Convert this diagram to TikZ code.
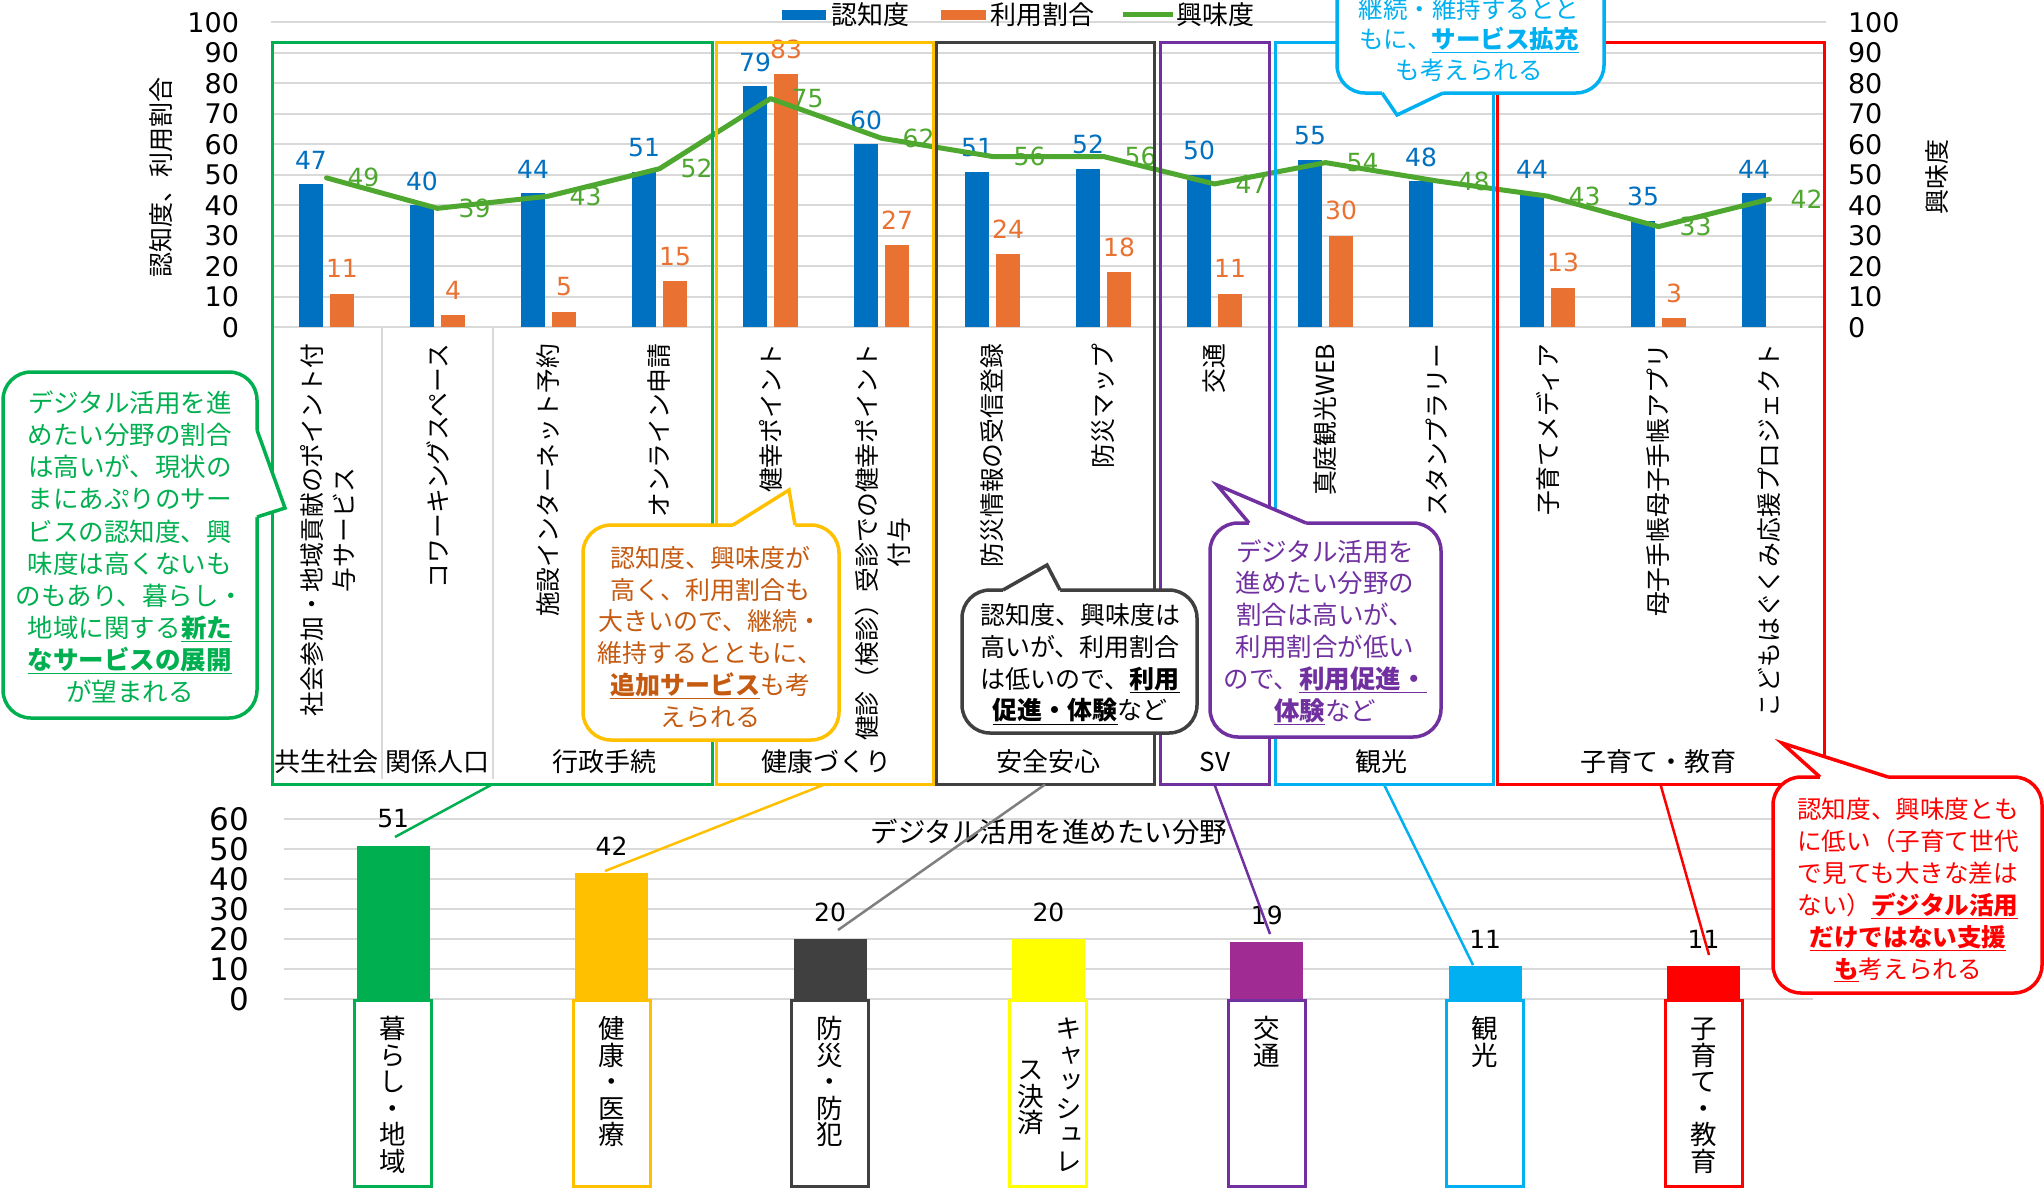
\documentclass[tikz,border=0pt]{standalone}
\usepackage{fontspec}
\setmainfont{Noto Sans CJK JP}
\newfontfamily\jpv[RawFeature=+vert]{Noto Sans CJK JP}
\newfontfamily\numf{DejaVu Sans}
\usetikzlibrary{calc}
\definecolor{cblue}{HTML}{0070C0}
\definecolor{corange}{HTML}{E97132}
\definecolor{cline}{HTML}{4EA72E}
\definecolor{cgrid}{HTML}{D9D9D9}
\definecolor{xgreen}{HTML}{00B050}
\definecolor{xgold}{HTML}{FFC000}
\definecolor{xdark}{HTML}{404040}
\definecolor{xyellow}{HTML}{FFFF00}
\definecolor{xpurple}{HTML}{7030A0}
\definecolor{xpurplebar}{HTML}{A02B93}
\definecolor{xcyan}{HTML}{00B0F0}
\definecolor{xred}{HTML}{FF0000}
\definecolor{xbrown}{HTML}{C55A11}
\definecolor{xconn}{HTML}{7F7F7F}
\newcommand\ulb[1]{\underline{\bfseries #1}}
\newcommand\vfnt{\jpv\fontsize{26.5}{26.5}\selectfont}
% name, x, baseline of first char, list of chars
\newcommand\vstack[4]{\foreach \ch [count=\n] in {#4}{\node[vtext,anchor=base] (#1-\n) at (#2,#3+26.5*\n-26.5) {\ch};}}
\begin{document}
\begin{tikzpicture}[x=1pt,y=-1pt,
  every node/.style={inner sep=0,outer sep=0},
  gridl/.style={draw=cgrid,line width=2},
  grpbox/.style={draw,line width=3,anchor=north west},
  vlab/.style={font=\numf\fontsize{25}{28}\selectfont},
  ax/.style={font=\numf\fontsize{27}{30}\selectfont},
  axb/.style={font=\numf\fontsize{31}{34}\selectfont},
  catlab/.style={rotate=90,anchor=east,align=center,font=\fontsize{24.8}{32}\selectfont},
  grplab/.style={font=\fontsize{26}{30}\selectfont},
  cbox/.style={draw,line width=3.5,fill=white,rounded corners=28,anchor=north west},
  ctext/.style={align=center,font=\fontsize{25}{31.7}\selectfont},
  vtext/.style={font=\vfnt},
  conn/.style={line width=2.5},
  wedge/.style={line width=3.5,line join=miter}
]
\useasboundingbox (0,0) rectangle (2044,1192);
\fill[white] (0,0) rectangle (2044,1192);

% ---------- top chart grid and axes ----------
\foreach \v in {0,10,...,100}{
  \draw[gridl] (271,327.2-3.048*\v) -- (1826,327.2-3.048*\v);
  \node[ax,anchor=east] (al\v) at (239,327.2-3.048*\v) {\v};
  \node[ax,anchor=west] (ar\v) at (1848,327.2-3.048*\v) {\v};
}
\node[rotate=90,font=\fontsize{25}{28}\selectfont] (ytl) at (161,177) {認知度、利用割合};
\node[rotate=90,font=\fontsize{25}{28}\selectfont] (ytr) at (1937,177) {興味度};

% separators in category axis
\draw[draw=cgrid,line width=1.5] (382,327) -- (382,779);
\draw[draw=cgrid,line width=1.5] (493,327) -- (493,779);

% ---------- bars ----------
\foreach \i/\vb/\vo/\vg in {1/47/11/49,2/40/4/39,3/44/5/43,4/51/15/52,5/79/83/75,6/60/27/62,7/51/24/56,8/52/18/56,9/50/11/47,10/55/30/54,11/48/-1/48,12/44/13/43,13/35/3/33,14/44/-1/42}{
  \pgfmathsetmacro\cx{215.5+111*\i}
  \pgfmathsetmacro\yb{327.2-3.048*\vb}
  \pgfmathsetmacro\yg{327.2-3.048*\vg}
  \fill[cblue] (\cx-27.5,327.2) rectangle (\cx-3.5,\yb);
  \node[vlab,text=cblue] (vb\i) at (\cx-15.5,\yb-24) {\vb};
  \ifnum\vo>-1
    \pgfmathsetmacro\yo{327.2-3.048*\vo}
    \fill[corange] (\cx+3.5,327.2) rectangle (\cx+27.5,\yo);
    \node[vlab,text=corange] (vo\i) at (\cx+15.5,\yo-25) {\vo};
  \fi
  \coordinate (k\i) at (\cx,\yg);
}
\draw[cline,line width=5,line join=round,line cap=round] (k1) -- (k2) -- (k3) -- (k4) -- (k5) -- (k6) -- (k7) -- (k8) -- (k9) -- (k10) -- (k11) -- (k12) -- (k13) -- (k14);
\foreach \i/\vg in {1/49,2/39,3/43,4/52,5/75,6/62,7/56,8/56,9/47,10/54,11/48,12/43,13/33,14/42}{
  \node[vlab,text=cline] (vg\i) at ($(k\i)+(37,0)$) {\vg};
}

% ---------- legend ----------
\fill[cblue] (782,10) rectangle (826,20);
\node[anchor=west,font=\fontsize{26}{28}\selectfont] (leg1) at (831,15) {認知度};
\fill[corange] (941,10) rectangle (986,20);
\node[anchor=west,font=\fontsize{26}{28}\selectfont] (leg2) at (990,15) {利用割合};
\draw[cline,line width=5] (1123,14) -- (1173,14);
\node[anchor=west,font=\fontsize{26}{28}\selectfont] (leg3) at (1176,15) {興味度};

% ---------- category labels ----------
\node[catlab] (cl1) at (328,344) {社会参加・地域貢献のポイント付\\与サービス};
\node[catlab] (cl2) at (437.5,344) {コワーキングスペース};
\node[catlab] (cl3) at (548.5,344) {施設インターネット予約};
\node[catlab] (cl4) at (659.5,344) {オンライン申請};
\node[catlab] (cl5) at (770.5,344) {健幸ポイント};
\node[catlab] (cl6) at (883,344) {健診（検診）受診での健幸ポイント\\付与};
\node[catlab] (cl7) at (992.5,344) {防災情報の受信登録};
\node[catlab] (cl8) at (1103.5,344) {防災マップ};
\node[catlab] (cl9) at (1214.5,344) {交通};
\node[catlab] (cl10) at (1325.5,344) {真庭観光WEB};
\node[catlab] (cl11) at (1436.5,344) {スタンプラリー};
\node[catlab] (cl12) at (1547.5,344) {子育てメディア};
\node[catlab] (cl13) at (1658.5,344) {母子手帳母子手帳アプリ};
\node[catlab] (cl14) at (1769.5,344) {こどもはぐくみ応援プロジェクト};

% group labels
\node[grplab] (gl1) at (326.5,762) {共生社会};
\node[grplab] (gl2) at (437.5,762) {関係人口};
\node[grplab] (gl3) at (604,762) {行政手続};
\node[grplab] (gl4) at (826,762) {健康づくり};
\node[grplab] (gl5) at (1048,762) {安全安心};
\node[grplab] (gl6) at (1215,762) {SV};
\node[grplab] (gl7) at (1381,762) {観光};
\node[grplab] (gl8) at (1658.5,762) {子育て・教育};

% group boxes
\node[grpbox,draw=xgreen,minimum width=440,minimum height=742] (g1) at (272,42.5) {};
\node[grpbox,draw=xgold,minimum width=217,minimum height=742] (g2) at (716,42.5) {};
\node[grpbox,draw=xdark,minimum width=218,minimum height=742] (g3) at (936,42.5) {};
\node[grpbox,draw=xpurple,minimum width=109,minimum height=742] (g4) at (1160,42.5) {};
\node[grpbox,draw=xcyan,minimum width=218,minimum height=742] (g5) at (1275,42.5) {};
\node[grpbox,draw=xred,minimum width=327,minimum height=742] (g6) at (1497,42.5) {};

% ---------- bottom chart ----------
\foreach \v in {0,10,...,60}{
  \draw[gridl] (284,999-3*\v) -- (1813,999-3*\v);
  \node[axb,anchor=east] (bl\v) at (249,999-3*\v) {\v};
}
\node[font=\fontsize{27.5}{30}\selectfont] (btitle) at (1049,832) {デジタル活用を進めたい分野};
\foreach \j/\val/\col/\bcol in {1/51/xgreen/xgreen,2/42/xgold/xgold,3/20/xdark/xdark,4/20/xyellow/xyellow,5/19/xpurplebar/xpurple,6/11/xcyan/xcyan,7/11/xred/xred}{
  \pgfmathsetmacro\bx{174.8+218.4*\j}
  \node[fill=\col,minimum width=73,minimum height=3*\val,anchor=south] (b\j) at (\bx,999) {};
  \node[font=\numf\fontsize{25}{28}\selectfont] (bv\j) at ([yshift=27pt]b\j.north) {\val};
  \node[draw=\bcol,line width=3,minimum width=77,minimum height=186,anchor=north] (bx\j) at (\bx,1000) {};
}
\vstack{vt1}{393.2}{1038.5}{暮,ら,し,・,地,域}
\vstack{vt2}{611.6}{1038.5}{健,康,・,医,療}
\vstack{vt3}{830}{1038.5}{防,災,・,防,犯}
\vstack{vt4a}{1069}{1038.8}{キ,ャ,ッ,シ,ュ,レ}
\vstack{vt4b}{1031}{1079.5}{ス,決,済}
\vstack{vt5}{1266.8}{1038.5}{交,通}
\vstack{vt6}{1485.2}{1038.5}{観,光}
\vstack{vt7}{1703.6}{1038.5}{子,育,て,・,教,育}

% ---------- connectors ----------
\coordinate (e1) at (395,837);
\coordinate (e2) at (605,871);
\coordinate (e3) at (838,930);
\coordinate (e4) at (1270,934);
\coordinate (e5) at (1473,965);
\coordinate (e6) at (1709,955);
\draw[conn,xgreen] (g1.south) -- (e1);
\draw[conn,xgold] (g2.south) -- (e2);
\draw[conn,xconn] (g3.south) -- (e3);
\draw[conn,xpurple] (g4.south) -- (e4);
\draw[conn,xcyan] (g5.south) -- (e5);
\draw[conn,xred] (g6.south) -- (e6);

% ---------- callouts ----------
% green
\node[cbox,draw=xgreen,minimum width=254,minimum height=346] (c1) at (3,372) {};
\fill[white] (254,430) -- (257,430) -- (285,508) -- (257,517) -- (254,517) -- cycle;
\draw[wedge,xgreen] (257,430) -- (285,508) -- (257,517);
\node[ctext,text=xgreen,font=\fontsize{25.5}{32.1}\selectfont] (t1) at (130,547) {デジタル活用を進\\めたい分野の割合\\は高いが、現状の\\まにあぷりのサー\\ビスの認知度、興\\味度は高くないも\\のもあり、暮らし・\\地域に関する\ulb{新た}\\\ulb{なサービスの展開}\\が望まれる};
% orange
\node[cbox,draw=xgold,minimum width=256,minimum height=215] (c2) at (583,525) {};
\fill[white] (733,528) -- (733,525) -- (789,490) -- (795,525) -- (795,528) -- cycle;
\draw[wedge,xgold] (733,525) -- (789,490) -- (795,525);
\node[ctext,text=xbrown] (t2) at (710,637) {認知度、興味度が\\高く、利用割合も\\大きいので、継続・\\維持するとともに、\\\ulb{追加サービス}も考\\えられる};
% gray
\node[cbox,draw=xdark,minimum width=235,minimum height=143] (c3) at (962,590) {};
\fill[white] (1003,593) -- (1003,590) -- (1047,565) -- (1060,590) -- (1060,593) -- cycle;
\draw[wedge,xdark] (1003,590) -- (1047,565) -- (1060,590);
\node[ctext,text=black] (t3) at (1080,664) {認知度、興味度は\\高いが、利用割合\\は低いので、\ulb{利用}\\\ulb{促進・体験}など};
% purple
\node[cbox,draw=xpurple,minimum width=231,minimum height=214] (c4) at (1210,523) {};
\fill[white] (1249,526) -- (1249,523) -- (1217,485) -- (1306,523) -- (1306,526) -- cycle;
\draw[wedge,xpurple] (1249,523) -- (1217,485) -- (1306,523);
\node[ctext,text=xpurple,font=\fontsize{25.5}{31.8}\selectfont] (t4) at (1325,632) {デジタル活用を\\進めたい分野の\\割合は高いが、\\利用割合が低い\\ので、\ulb{利用促進・}\\\ulb{体験}など};
% cyan
\node[cbox,draw=xcyan,minimum width=267,minimum height=133] (c5) at (1337,-40) {};
\fill[white] (1382,90) -- (1382,93) -- (1397,115) -- (1443,93) -- (1443,90) -- cycle;
\draw[wedge,xcyan] (1382,93) -- (1397,115) -- (1443,93);
\node[ctext,text=xcyan,font=\fontsize{24.5}{30.5}\selectfont] (t5) at (1469,39.5) {継続・維持するとと\\もに、\ulb{サービス拡充}\\も考えられる};
% red
\node[cbox,draw=xred,minimum width=269,minimum height=216] (c6) at (1773,777) {};
\fill[white] (1820,780) -- (1820,777) -- (1782,743) -- (1888,777) -- (1888,780) -- cycle;
\draw[wedge,xred] (1820,777) -- (1782,743) -- (1888,777);
\node[ctext,text=xred,font=\fontsize{24.6}{32}\selectfont] (t6) at (1908,890) {認知度、興味度とも\\に低い（子育て世代\\で見ても大きな差は\\ない）\ulb{デジタル活用}\\\ulb{だけではない支援}\\\ulb{も}考えられる};
\end{tikzpicture}
\end{document}
